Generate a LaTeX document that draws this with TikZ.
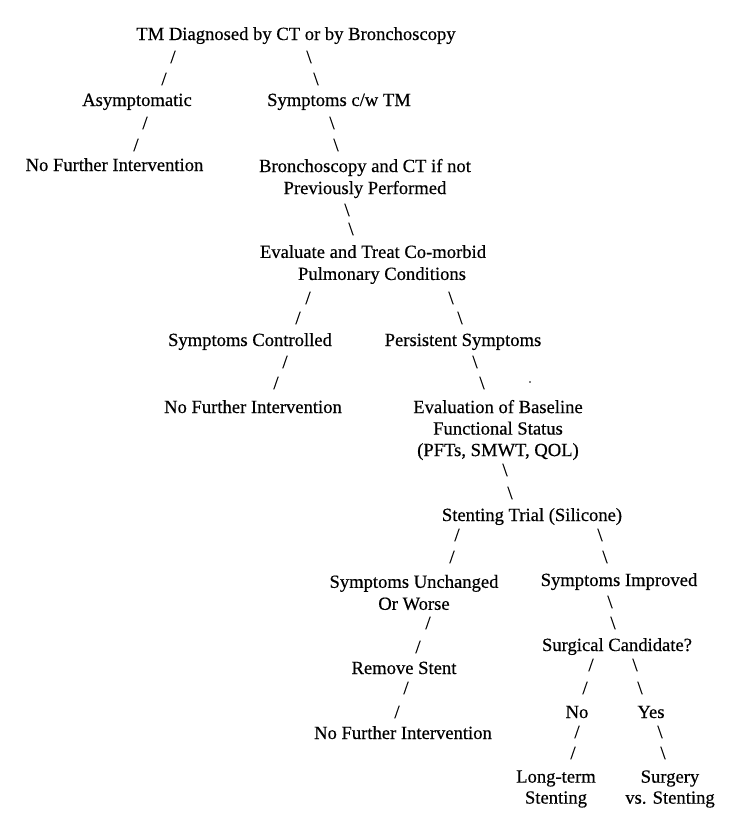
\documentclass[tikz,border=0pt]{standalone}
\usepackage{fontspec}
\setmainfont[FakeBold=0.4]{Liberation Serif}
\begin{document}
\begin{tikzpicture}[x=1pt,y=-1pt,
  lbl/.style={anchor=base,inner sep=0pt,font=\fontsize{18.6}{22}\selectfont},
  mlbl/.style={anchor=center,inner sep=0pt,align=center,font=\fontsize{18.6}{22}\selectfont},
  fw/.style={anchor=center,inner sep=0pt,font=\fontsize{18.6}{22}\selectfont},
  bw/.style={anchor=center,inner sep=0pt,font=\fontsize{18.6}{22}\selectfont}]
\useasboundingbox (0,0) rectangle (739,828);
\fill[white] (0,0) rectangle (739,828);
% level 0
\node[lbl] (tm) at (296,40) {TM Diagnosed by CT or by Bronchoscopy};
\node[fw] (s1a) at (173,57) {/};
\node[fw] (s1b) at (164,79) {/};
\node[bw] (b1a) at (309,57) {\textbackslash};
\node[bw] (b1b) at (316,79) {\textbackslash};
\node[lbl] (asym) at (137,106) {Asymptomatic};
\node[lbl] (symp) at (339,106) {Symptoms c/w TM};
\node[fw] (s2a) at (145,123) {/};
\node[fw] (s2b) at (136,145) {/};
\node[bw] (b2a) at (332,123) {\textbackslash};
\node[bw] (b2b) at (336,145) {\textbackslash};
\node[lbl] (nfi1) at (114.5,171) {No Further Intervention};
\node[mlbl] (bron) at (365,178.5) {Bronchoscopy and CT if not\\Previously Performed};
\node[bw] (b3a) at (347,210) {\textbackslash};
\node[bw] (b3b) at (351,229) {\textbackslash};
\node[mlbl] (eval) at (373,264.5) {Evaluate and Treat Co-morbid\\\hspace*{18pt}Pulmonary Conditions};
\node[fw] (s4a) at (308,298) {/};
\node[fw] (s4b) at (298,318) {/};
\node[bw] (b4a) at (451,298) {\textbackslash};
\node[bw] (b4b) at (460,318) {\textbackslash};
\node[lbl] (ctrl) at (250,346) {Symptoms Controlled};
\node[lbl] (pers) at (463,346) {Persistent Symptoms};
\node[fw] (s5a) at (285,362) {/};
\node[fw] (s5b) at (276,383) {/};
\node[bw] (b5a) at (475,362) {\textbackslash};
\node[bw] (b5b) at (482,383) {\textbackslash};
\fill (530,382) circle (0.9);
\node[lbl] (nfi2) at (253,413) {No Further Intervention};
\node[mlbl,font=\fontsize{18.6}{21.5}\selectfont] (base) at (498,430) {Evaluation of Baseline\\Functional Status\\(PFTs, SMWT, QOL)};
\node[bw] (b6a) at (505,470) {\textbackslash};
\node[bw] (b6b) at (510,493) {\textbackslash};
\node[lbl] (stent) at (532,521) {Stenting Trial (Silicone)};
\node[fw] (s7a) at (457,535) {/};
\node[fw] (s7b) at (452,557) {/};
\node[bw] (b7a) at (600,535) {\textbackslash};
\node[bw] (b7b) at (605,557) {\textbackslash};
\node[mlbl] (unch) at (414,592.5) {Symptoms Unchanged\\Or Worse};
\node[lbl] (impr) at (619,586) {Symptoms Improved};
\node[bw] (b8a) at (610,602) {\textbackslash};
\node[bw] (b8b) at (613,623) {\textbackslash};
\node[fw] (s8a) at (428,623) {/};
\node[fw] (s8b) at (418,647) {/};
\node[lbl] (surg) at (617,651) {Surgical Candidate?};
\node[lbl] (remv) at (404,674) {Remove Stent};
\node[fw] (s9a) at (591,665) {/};
\node[fw] (s9b) at (585,688) {/};
\node[bw] (b9a) at (635,665) {\textbackslash};
\node[bw] (b9b) at (640,688) {\textbackslash};
\node[fw] (s10a) at (406,688) {/};
\node[fw] (s10b) at (397,712) {/};
\node[lbl] (no) at (577,718) {No};
\node[lbl] (yes) at (651,718) {Yes};
\node[lbl] (nfi3) at (403,739) {No Further Intervention};
\node[fw] (s11a) at (577,732) {/};
\node[fw] (s11b) at (573,753) {/};
\node[bw] (b11a) at (660,732) {\textbackslash};
\node[bw] (b11b) at (663,753) {\textbackslash};
\node[mlbl,font=\fontsize{18.6}{21}\selectfont] (long) at (556,789) {Long-term\\Stenting};
\node[mlbl,font=\fontsize{18.6}{21}\selectfont] (svs) at (670,789) {Surgery\\vs. Stenting};
\end{tikzpicture}
\end{document}
